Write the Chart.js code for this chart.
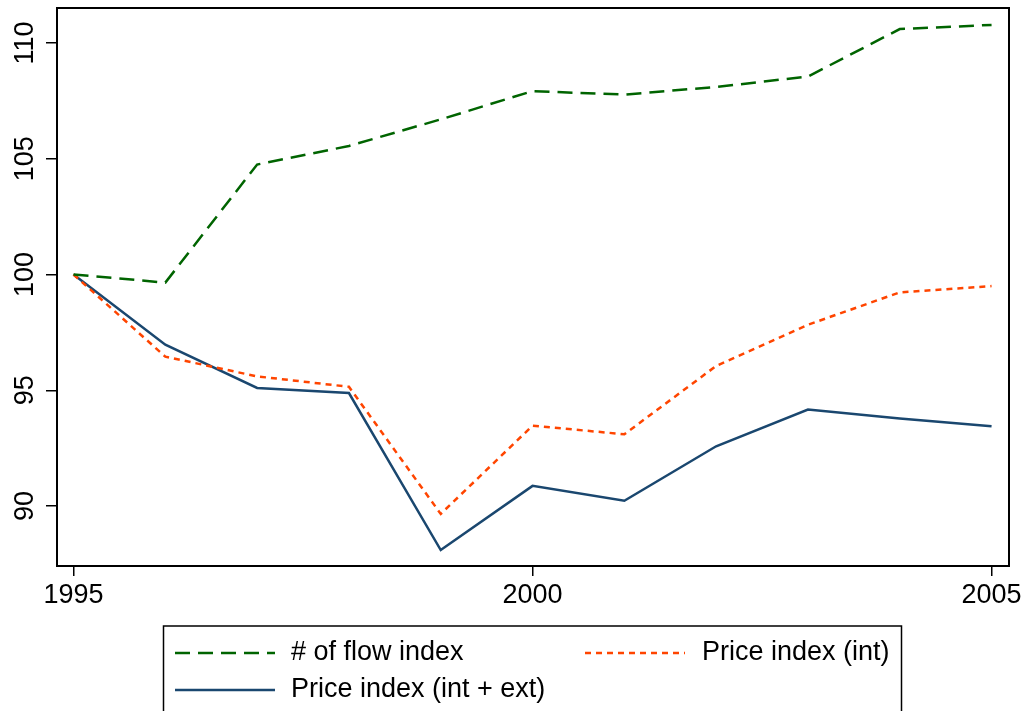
<!DOCTYPE html>
<html>
<head>
<meta charset="utf-8">
<script src="https://cdn.jsdelivr.net/npm/chart.js@4"></script>
<style>
    html, body { margin: 0; padding: 0; background: #fff; }
    #wrap { width: 1026px; height: 711px; }
</style>
</head>
<body>
<div id="wrap"><canvas id="chartIndices" width="1026" height="711"></canvas></div>
<script>
const years = [1995, 1996, 1997, 1998, 1999, 2000, 2001, 2002, 2003, 2004, 2005];
const flowIndex = [100, 99.65, 104.75, 105.55, 106.7, 107.92, 107.77, 108.1, 108.55, 110.6, 110.78];
const priceInt = [100, 96.45, 95.6, 95.15, 89.66, 93.47, 93.1, 96.05, 97.83, 99.23, 99.5];
const priceIntExt = [100, 96.97, 95.1, 94.88, 88.1, 90.87, 90.23, 92.58, 94.17, 93.78, 93.45];
const xTicks = [1995, 2000, 2005];
const yTicks = [90, 95, 100, 105, 110];

const labels = ['# of flow index', 'Price index (int)', 'Price index (int + ext)'];
const colores = ['#006400', '#ff4500', '#1a476f'];
const fuente = '"Liberation Sans", Arial, sans-serif';
const tamFuente = 27;

function puntos(valores) {
    return years.map((y, i) => ({ x: y, y: valores[i] }));
}

// etiquetas del eje Y giradas (estilo Stata)
const yLabelsPlugin = {
    id: 'yLabels',
    afterDraw(chart) {
        const ctx = chart.ctx;
        const yScale = chart.scales.y;
        ctx.save();
        ctx.fillStyle = '#000';
        ctx.font = tamFuente + 'px ' + fuente;
        ctx.textAlign = 'center';
        ctx.textBaseline = 'alphabetic';
        yTicks.forEach(t => {
            const py = yScale.getPixelForValue(t);
            ctx.save();
            ctx.translate(33, py);
            ctx.rotate(-Math.PI / 2);
            ctx.fillText(String(t), 0, 0);
            ctx.restore();
        });
        ctx.restore();
    }
};

// marco completo + leyenda en caja
const marcoLeyendaPlugin = {
    id: 'marcoLeyenda',
    afterDraw(chart) {
        const ctx = chart.ctx;
        const a = chart.chartArea;
        ctx.save();
        ctx.strokeStyle = '#000';
        ctx.lineWidth = 2;
        ctx.strokeRect(a.left, a.top, a.right - a.left, a.bottom - a.top);

        // caja de la leyenda
        ctx.lineWidth = 1.5;
        ctx.strokeRect(163.5, 626, 738, 100);

        const items = [
            { x: 175, y: 653, tx: 291 },
            { x: 585, y: 653, tx: 702 },
            { x: 175, y: 690, tx: 291 }
        ];
        ctx.font = tamFuente + 'px ' + fuente;
        ctx.textBaseline = 'middle';
        ctx.textAlign = 'left';
        chart.data.datasets.forEach((ds, i) => {
            const it = items[i];
            ctx.strokeStyle = ds.borderColor;
            ctx.lineWidth = ds.borderWidth;
            ctx.setLineDash(ds.borderDash || []);
            ctx.beginPath();
            ctx.moveTo(it.x, it.y);
            ctx.lineTo(it.x + 100, it.y);
            ctx.stroke();
            ctx.setLineDash([]);
            ctx.fillStyle = '#000';
            ctx.fillText(ds.label, it.tx, it.y);
        });
        ctx.restore();
    }
};

const ctx = document.getElementById('chartIndices').getContext('2d');
new Chart(ctx, {
    type: 'line',
    data: {
        datasets: [
            { label: labels[0], data: puntos(flowIndex), borderColor: colores[0], borderWidth: 2.5, borderDash: [15, 8] },
            { label: labels[1], data: puntos(priceInt), borderColor: colores[1], borderWidth: 2.5, borderDash: [6, 5] },
            { label: labels[2], data: puntos(priceIntExt), borderColor: colores[2], borderWidth: 2.5 }
        ]
    },
    options: {
        responsive: false,
        animation: false,
        layout: { padding: { left: 0, right: 17, top: 8, bottom: 0 } },
        elements: {
            point: { radius: 0 },
            line: { tension: 0, fill: false }
        },
        plugins: {
            legend: { display: false },
            tooltip: { enabled: false }
        },
        scales: {
            x: {
                type: 'linear',
                min: 1994.82,
                max: 2005.19,
                afterBuildTicks: s => { s.ticks = xTicks.map(v => ({ value: v })); },
                afterFit: s => { s.height = 145; },
                grid: { drawOnChartArea: false, drawTicks: true, tickLength: 10, color: '#000', lineWidth: 1.5 },
                border: { display: true, color: '#000', width: 2 },
                ticks: {
                    color: '#000',
                    padding: 3,
                    maxRotation: 0,
                    font: { family: fuente, size: tamFuente },
                    callback: v => String(v)
                }
            },
            y: {
                type: 'linear',
                min: 87.41,
                max: 111.51,
                afterBuildTicks: s => { s.ticks = yTicks.map(v => ({ value: v })); },
                afterFit: s => { s.width = 57; },
                grid: { drawOnChartArea: false, drawTicks: true, tickLength: 11, color: '#000', lineWidth: 1.5 },
                border: { display: true, color: '#000', width: 2 },
                ticks: { display: false }
            }
        }
    },
    plugins: [yLabelsPlugin, marcoLeyendaPlugin]
});
</script>
</body>
</html>
